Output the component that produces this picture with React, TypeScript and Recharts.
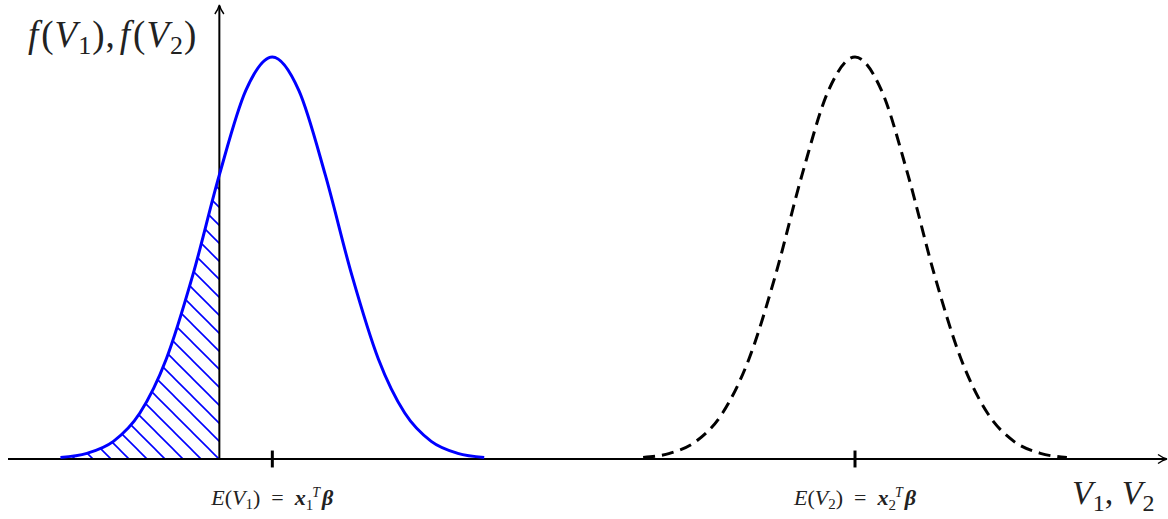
import React from "react"
import { ComposedChart, Line, Area, XAxis, YAxis, ReferenceLine } from "recharts"

// x positions (in units of the V axis) and density values
const xV1 = [-3, -2.5, -2, -1.5, -1, -0.5, 0, 0.5, 1, 1.5, 2, 2.5, 3, 3.5, 4, 4.5, 5]
const fV1 = [0.0013, 0.0047, 0.0146, 0.038, 0.0829, 0.1522, 0.2349, 0.3048, 0.3324, 0.3048, 0.2349, 0.1522, 0.0829, 0.038, 0.0146, 0.0047, 0.0013]

const xV2 = [8, 8.5, 9, 9.5, 10, 10.5, 11, 11.5, 12, 12.5, 13, 13.5, 14, 14.5, 15, 15.5, 16]
const fV2 = [0.0013, 0.0047, 0.0146, 0.038, 0.0829, 0.1522, 0.2349, 0.3048, 0.3324, 0.3048, 0.2349, 0.1522, 0.0829, 0.038, 0.0146, 0.0047, 0.0013]

// shaded tail: P(V1 < 0)
const xTail = [-3, -2.5, -2, -1.5, -1, -0.5, 0]
const fTail = [0.0013, 0.0047, 0.0146, 0.038, 0.0829, 0.1522, 0.2349]

const xDomain: [number, number] = [-3.99, 17.89]
const yDomain: [number, number] = [0, 0.3754]
const meanTicks = [1, 12]
const meanSubs = ["1", "2"]

const curve1 = xV1.map((x, i) => ({ x, f: fV1[i] }))
const curve2 = xV2.map((x, i) => ({ x, f: fV2[i] }))
const tail = xTail.map((x, i) => ({ x, f: fTail[i] }))

const FONT = "'Liberation Serif', 'DejaVu Serif', serif"

function XAxisArrow(props: any) {
  const { x1, y1, x2 } = props
  return (
    <g>
      <line x1={x1} y1={y1} x2={x2 - 1} y2={y1} stroke="#000" strokeWidth={2} />
      <path d={`M${x2 - 9},${y1 - 4.5} Q${x2 - 4},${y1 - 1} ${x2},${y1} Q${x2 - 4},${y1 + 1} ${x2 - 9},${y1 + 4.5}`} fill="none" stroke="#000" strokeWidth={1.4} />
      <text x={x2 - 95} y={y1 + 45} fontFamily={FONT} fontSize={34} fill="#222">
        <tspan fontStyle="italic">V</tspan>
        <tspan fontSize={24} dy={7}>1</tspan>
        <tspan dy={-7}>, </tspan>
        <tspan fontStyle="italic">V</tspan>
        <tspan fontSize={24} dy={7}>2</tspan>
      </text>
    </g>
  )
}

function YAxisArrow(props: any) {
  const { x1, y1, y2 } = props
  const top = Math.min(y1, y2)
  const bottom = Math.max(y1, y2)
  return (
    <g>
      <line x1={x1} y1={bottom} x2={x1} y2={top + 1} stroke="#000" strokeWidth={2} />
      <path d={`M${x1 - 4.5},${top + 9} Q${x1 - 1},${top + 4} ${x1},${top} Q${x1 + 1},${top + 4} ${x1 + 4.5},${top + 9}`} fill="none" stroke="#000" strokeWidth={1.4} />
      <text x={x1 - 22} y={top + 42} textAnchor="end" fontFamily={FONT} fontSize={37} letterSpacing={1} fill="#222">
        <tspan fontStyle="italic">f</tspan>
        <tspan dx={2}>(</tspan>
        <tspan fontStyle="italic">V</tspan>
        <tspan fontSize={26} dy={7}>1</tspan>
        <tspan dy={-7}>),</tspan>
        <tspan fontStyle="italic" dx={4}>f</tspan>
        <tspan dx={2}>(</tspan>
        <tspan fontStyle="italic">V</tspan>
        <tspan fontSize={26} dy={7}>2</tspan>
        <tspan dy={-7}>)</tspan>
      </text>
    </g>
  )
}

function meanTick(sub: string) {
  return (props: any) => {
    const { x1, y1, y2 } = props
    const bottom = Math.max(y1, y2)
    const top = Math.min(y1, y2)
    return (
      <g>
        <line x1={x1} y1={top} x2={x1} y2={bottom} stroke="#000" strokeWidth={3} />
        <text x={x1} y={bottom + 38} textAnchor="middle" fontFamily={FONT} fontSize={22} fill="#222">
          <tspan fontStyle="italic">E</tspan>
          <tspan>(</tspan>
          <tspan fontStyle="italic">V</tspan>
          <tspan fontSize={15} dy={4}>{sub}</tspan>
          <tspan dy={-4}>{")\u2002=\u2002"}</tspan>
          <tspan fontStyle="italic" fontWeight="bold">x</tspan>
          <tspan fontSize={15} dy={5}>{sub}</tspan>
          <tspan fontSize={14} fontStyle="italic" dx={-1} dy={-13}>T</tspan>
          <tspan fontStyle="italic" fontWeight="bold" dx={2} dy={8}>β</tspan>
        </text>
      </g>
    )
  }
}

export default function App() {
  return (
    <div style={{ position: "absolute", left: 0, top: 0, background: "#fff" }}>
      <ComposedChart width={1168} height={519} margin={{ top: 5, right: 1, bottom: 60, left: 8 }}>
        <defs>
          <pattern id="hatch" patternUnits="userSpaceOnUse" x={12} y={0} width={18} height={18}>
            <path d="M-1,-1 L19,19 M-3,15 L3,21 M15,-3 L21,3" stroke="#0000ff" strokeWidth={1.6} />
          </pattern>
        </defs>
        <XAxis type="number" dataKey="x" domain={xDomain} allowDataOverflow hide />
        <YAxis type="number" domain={yDomain} allowDataOverflow hide />

        <Area data={tail} dataKey="f" type="monotone" stroke="none" fill="url(#hatch)" fillOpacity={1} baseValue={0} isAnimationActive={false} />

        <ReferenceLine segment={[{ x: xDomain[0], y: 0 }, { x: xDomain[1], y: 0 }]} ifOverflow="visible" shape={XAxisArrow} />
        <ReferenceLine segment={[{ x: 0, y: 0 }, { x: 0, y: yDomain[1] }]} ifOverflow="visible" shape={YAxisArrow} />
        {meanTicks.map((m, i) => (
          <ReferenceLine key={m} segment={[{ x: m, y: -0.007 }, { x: m, y: 0.007 }]} ifOverflow="visible" shape={meanTick(meanSubs[i])} />
        ))}

        <Line data={curve1} dataKey="f" type="monotone" stroke="#0000ff" strokeWidth={3} dot={false} isAnimationActive={false} />
        <Line data={curve2} dataKey="f" type="monotone" stroke="#000" strokeWidth={3} strokeDasharray="12 7" dot={false} isAnimationActive={false} />
      </ComposedChart>
    </div>
  )
}
